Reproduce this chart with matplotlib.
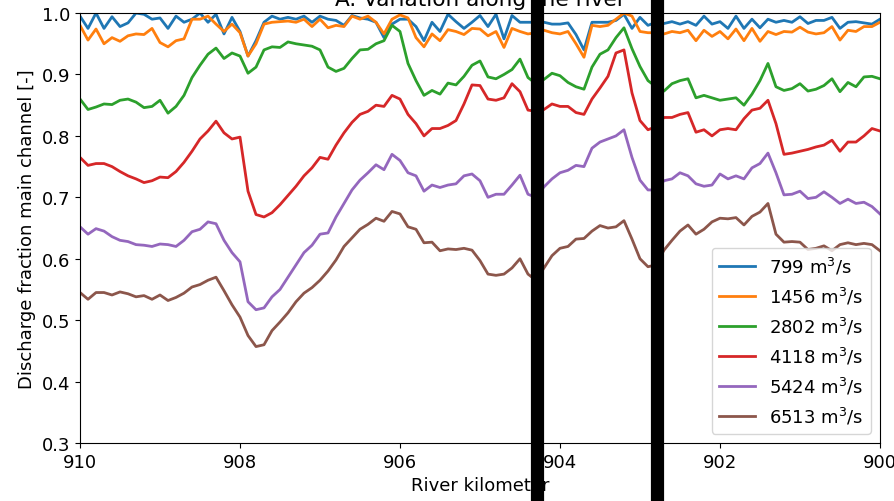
import matplotlib
matplotlib.use("Agg")
import matplotlib.pyplot as plt
import matplotlib.transforms as mtransforms
import numpy as np

# river kilometre, every 100 m from 910 down to 900
km = np.round(np.linspace(910, 900, 101), 1)

q799 = [0.995, 0.975, 1.0, 0.975, 0.994, 0.978, 0.984, 1.0, 0.998, 0.99,
        0.992, 0.975, 0.995, 0.985, 0.99, 1.0, 0.985, 0.998, 0.966, 0.993,
        0.97, 0.93, 0.955, 0.985, 0.995, 0.99, 0.993, 0.99, 0.995, 0.985,
        0.995, 0.99, 0.988, 0.98, 0.996, 0.992, 0.99, 0.985, 0.96, 0.982,
        0.99, 0.99, 0.978, 0.955, 0.985, 0.97, 0.998, 0.986, 0.975, 0.985,
        0.996, 0.978, 0.998, 0.958, 0.996, 0.985, 0.985, 0.985, 0.985, 0.982,
        0.982, 0.984, 0.965, 0.94, 0.985, 0.985, 0.985, 0.988, 0.998, 0.975,
        0.993, 0.98, 0.985, 0.983, 0.986, 0.982, 0.986, 0.98, 0.995, 0.982,
        0.986, 0.975, 0.995, 0.975, 0.99, 0.976, 0.99, 0.985, 0.988, 0.985,
        0.994, 0.983, 0.988, 0.988, 0.993, 0.975, 0.985, 0.986, 0.984, 0.982, 0.99]

q1456 = [0.98, 0.956, 0.974, 0.95, 0.96, 0.954, 0.963, 0.966, 0.965, 0.975,
         0.952, 0.945, 0.955, 0.958, 0.99, 0.99, 0.995, 0.982, 0.97, 0.982,
         0.968, 0.93, 0.95, 0.982, 0.985, 0.986, 0.987, 0.985, 0.99, 0.978,
         0.99, 0.976, 0.98, 0.978, 0.995, 0.99, 0.995, 0.985, 0.966, 0.99,
         0.997, 0.992, 0.96, 0.945, 0.966, 0.955, 0.973, 0.97, 0.965, 0.975,
         0.974, 0.963, 0.97, 0.944, 0.975, 0.97, 0.966, 0.968, 0.972, 0.968,
         0.966, 0.97, 0.95, 0.928, 0.98, 0.978, 0.98, 0.99, 1.0, 0.995,
         0.97, 0.968, 0.968, 0.966, 0.97, 0.968, 0.972, 0.955, 0.972, 0.962,
         0.97, 0.958, 0.974, 0.955, 0.975, 0.954, 0.97, 0.965, 0.97, 0.969,
         0.977, 0.969, 0.966, 0.968, 0.978, 0.956, 0.972, 0.97, 0.978, 0.978, 0.985]

q2802 = [0.86, 0.843, 0.847, 0.852, 0.851, 0.858, 0.86, 0.855, 0.846, 0.848,
         0.858, 0.837, 0.848, 0.866, 0.895, 0.915, 0.933, 0.943, 0.926, 0.935,
         0.93, 0.902, 0.912, 0.94, 0.945, 0.944, 0.953, 0.95, 0.948, 0.946,
         0.94, 0.912, 0.905, 0.91, 0.926, 0.94, 0.941, 0.95, 0.955, 0.98,
         0.97, 0.918, 0.89, 0.866, 0.874, 0.868, 0.886, 0.883, 0.897, 0.915,
         0.922, 0.896, 0.893, 0.9, 0.908, 0.925, 0.895, 0.885, 0.892, 0.902,
         0.898, 0.887, 0.88, 0.876, 0.912, 0.933, 0.94, 0.96, 0.976, 0.942,
         0.913, 0.89, 0.88, 0.873, 0.885, 0.89, 0.893, 0.862, 0.866, 0.862,
         0.858, 0.86, 0.862, 0.85, 0.868, 0.89, 0.918, 0.88, 0.874, 0.877,
         0.885, 0.873, 0.876, 0.882, 0.893, 0.872, 0.887, 0.88, 0.896, 0.897, 0.893]

q4118 = [0.765, 0.752, 0.755, 0.755, 0.75, 0.742, 0.735, 0.73, 0.724, 0.727,
         0.733, 0.732, 0.742, 0.757, 0.775, 0.795, 0.808, 0.824, 0.805, 0.795,
         0.798, 0.71, 0.672, 0.668, 0.675, 0.688, 0.703, 0.718, 0.735, 0.748,
         0.765, 0.762, 0.785, 0.805, 0.822, 0.835, 0.84, 0.85, 0.848, 0.866,
         0.86, 0.835, 0.82, 0.8, 0.812, 0.812, 0.817, 0.825, 0.852, 0.883,
         0.882, 0.86, 0.858, 0.862, 0.885, 0.872, 0.842, 0.84, 0.843, 0.852,
         0.848, 0.848, 0.838, 0.835, 0.86, 0.878, 0.897, 0.935, 0.94, 0.87,
         0.825, 0.81, 0.815, 0.83, 0.83, 0.835, 0.838, 0.806, 0.81, 0.8,
         0.81, 0.812, 0.81, 0.828, 0.842, 0.845, 0.858, 0.82, 0.77, 0.772,
         0.775, 0.778, 0.782, 0.785, 0.793, 0.775, 0.79, 0.79, 0.80, 0.812, 0.808]

q5424 = [0.652, 0.64, 0.649, 0.645, 0.636, 0.63, 0.628, 0.623, 0.622, 0.62,
         0.624, 0.623, 0.62, 0.63, 0.644, 0.648, 0.66, 0.657, 0.63, 0.61,
         0.595, 0.53, 0.517, 0.52, 0.538, 0.55, 0.57, 0.59, 0.61, 0.622,
         0.64, 0.642, 0.668, 0.69, 0.712, 0.728, 0.74, 0.753, 0.745, 0.77,
         0.76, 0.74, 0.735, 0.71, 0.72, 0.716, 0.72, 0.722, 0.735, 0.738,
         0.727, 0.70, 0.705, 0.705, 0.72, 0.736, 0.705, 0.70, 0.717, 0.73,
         0.74, 0.744, 0.752, 0.75, 0.78, 0.79, 0.795, 0.8, 0.81, 0.765,
         0.728, 0.712, 0.712, 0.727, 0.73, 0.74, 0.735, 0.722, 0.718, 0.72,
         0.738, 0.73, 0.735, 0.73, 0.748, 0.755, 0.772, 0.74, 0.704, 0.705,
         0.71, 0.698, 0.7, 0.709, 0.7, 0.69, 0.697, 0.69, 0.692, 0.685, 0.673]

q6513 = [0.545, 0.534, 0.545, 0.545, 0.541, 0.546, 0.543, 0.538, 0.54, 0.534,
         0.541, 0.532, 0.537, 0.544, 0.554, 0.558, 0.565, 0.57, 0.548, 0.525,
         0.505, 0.475, 0.457, 0.46, 0.483, 0.497, 0.512, 0.53, 0.544, 0.553,
         0.565, 0.58, 0.598, 0.62, 0.634, 0.648, 0.656, 0.666, 0.661, 0.677,
         0.673, 0.652, 0.648, 0.626, 0.627, 0.613, 0.616, 0.615, 0.617, 0.614,
         0.597, 0.575, 0.573, 0.575, 0.585, 0.6, 0.575, 0.565, 0.585, 0.605,
         0.617, 0.62, 0.632, 0.633, 0.645, 0.654, 0.65, 0.652, 0.662, 0.632,
         0.6, 0.587, 0.59, 0.614, 0.63, 0.645, 0.655, 0.64, 0.648, 0.66,
         0.666, 0.665, 0.667, 0.655, 0.669, 0.676, 0.69, 0.64, 0.627, 0.628,
         0.627, 0.615, 0.617, 0.621, 0.613, 0.623, 0.626, 0.623, 0.625, 0.623, 0.613]

discharges = [799, 1456, 2802, 4118, 5424, 6513]
series = [q799, q1456, q2802, q4118, q5424, q6513]

# locations of the two thick marker lines (river km)
markers_km = [904.29, 902.79]

plt.rcParams['font.size'] = 13

fig = plt.figure(figsize=(8.95, 5.02), dpi=100)
ax = fig.add_axes([0.0894, 0.1155, 0.8938, 0.8565])

for q, vals in zip(discharges, series):
    ax.plot(km, vals, lw=2, label=f'{q} m$^3$/s')

ax.set_xlim(910, 900)
ax.set_ylim(0.3, 1.0)
ax.set_xticks([910, 908, 906, 904, 902, 900])
ax.set_yticks(np.arange(0.3, 1.01, 0.1))
ax.set_xlabel('River kilometer')
ax.set_ylabel('Discharge fraction main channel [-]')
ax.set_title('A. Variation along the river')
ax.legend(loc='lower right')

# thick black lines running over the full figure height
trans = mtransforms.blended_transform_factory(ax.transData, fig.transFigure)
for xk in markers_km:
    ax.plot([xk, xk], [0, 1], color='black', lw=9.5, transform=trans,
            clip_on=False, zorder=10)

fig.savefig('out.png', dpi=100)
